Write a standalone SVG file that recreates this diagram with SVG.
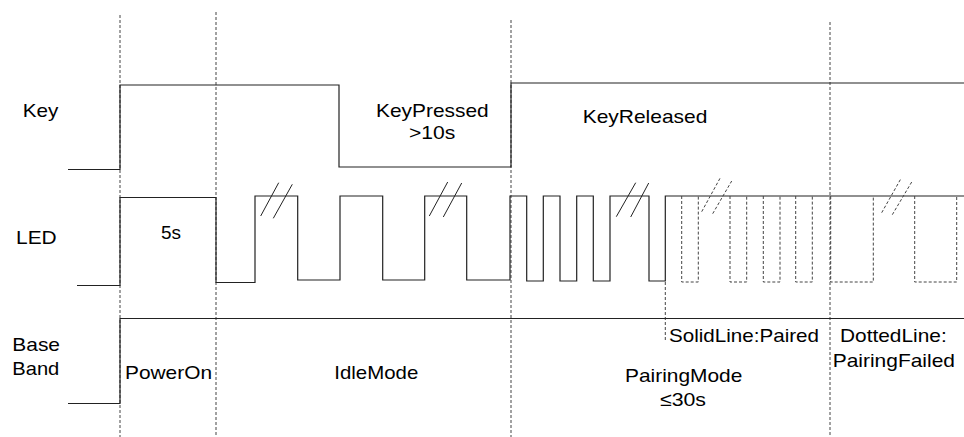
<svg xmlns="http://www.w3.org/2000/svg" width="964" height="437" viewBox="0 0 964 437">
<style>
text{font-family:"Liberation Sans",Arial,sans-serif;font-size:19px;fill:#000}
.w{fill:none;stroke:#222;stroke-width:1.2}
.d{fill:none;stroke:#444;stroke-width:1;stroke-dasharray:3,2}
.s{fill:none;stroke:#222;stroke-width:1}
</style>
<rect width="964" height="437" fill="#fff"/>
<g id="gridlines">
<path class="d" d="M120,15V437M216,12V437M511,20V437M830,22V437M665.3,282V340"/>
</g>
<g id="labels">
<text x="22.7" y="116.7" textLength="35.6" lengthAdjust="spacingAndGlyphs">Key</text>
<text x="16" y="244.3" textLength="40.7" lengthAdjust="spacingAndGlyphs">LED</text>
<text x="12.3" y="350.7" textLength="47.7" lengthAdjust="spacingAndGlyphs">Base</text>
<text x="12.3" y="375" textLength="47" lengthAdjust="spacingAndGlyphs">Band</text>
</g>
<g id="key">
<path class="w" d="M68,169.5H120V85H339V167H511V83H964"/>
<text x="376" y="117" textLength="112.7" lengthAdjust="spacingAndGlyphs">KeyPressed</text>
<text x="409" y="139" textLength="46.3" lengthAdjust="spacingAndGlyphs">&gt;10s</text>
<text x="582.7" y="122.7" textLength="124.7" lengthAdjust="spacingAndGlyphs">KeyReleased</text>
</g>
<g id="led">
<path class="w" d="M77,285.5H120V197.5H216V282.5H255V196H297.7V280H340V196H382.7V280H424.7V196H466.7V280H510V196H526.7V281H543.3V196H560V281H576.7V196H593.3V281H610V196H649V281H665.3V196H964"/>
<path class="d" d="M681.7,196V282H698.3V196M730,196V282H746.7V196M763.3,196V282H780V196M795.7,196V282H812.3V196M830.7,196V282H873.3V196M914.7,196V282H956.7V196"/>
<path class="s" d="M260.7,216L278.7,182.7M273.3,218.3L292.3,184.3M429.3,216L447.7,182M443.3,217L461.7,183M616.3,216.7L635.7,182.7M630.7,217L648.7,183"/>
<path class="d" d="M701.7,211.7L720,178.3M712.7,213.7L731.7,181M881.7,212.7L900.7,179M892.3,214.7L911.7,182"/>
<text x="161" y="239" textLength="20" lengthAdjust="spacingAndGlyphs">5s</text>
</g>
<g id="baseband">
<path class="w" d="M68,403.5H120V318.5H964"/>
<text x="125" y="379" textLength="87" lengthAdjust="spacingAndGlyphs">PowerOn</text>
<text x="334.3" y="379" textLength="84" lengthAdjust="spacingAndGlyphs">IdleMode</text>
<text x="625" y="382.3" textLength="117.3" lengthAdjust="spacingAndGlyphs">PairingMode</text>
<text x="660" y="406" textLength="46" lengthAdjust="spacingAndGlyphs">≤30s</text>
<text x="669" y="341.7" textLength="150" lengthAdjust="spacingAndGlyphs">SolidLine:Paired</text>
<text x="840" y="341.7" textLength="106.7" lengthAdjust="spacingAndGlyphs">DottedLine:</text>
<text x="832.7" y="367.3" textLength="122.3" lengthAdjust="spacingAndGlyphs">PairingFailed</text>
</g>
</svg>
